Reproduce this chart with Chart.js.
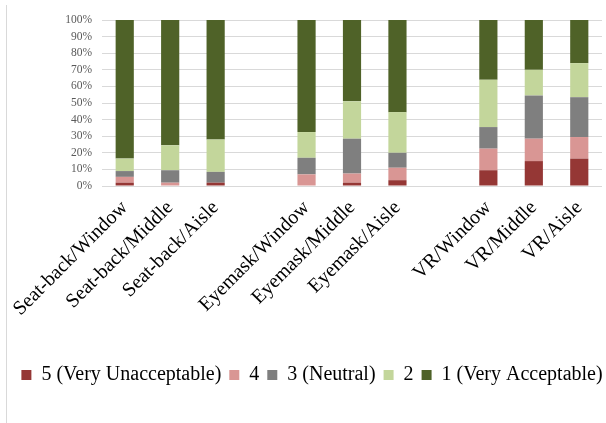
<!DOCTYPE html>
<html>
<head>
<meta charset="utf-8">
<script src="https://cdn.jsdelivr.net/npm/chart.js@4"></script>
<style>
  html, body { margin: 0; padding: 0; background: #fff; }
  #wrap { position: relative; width: 606px; height: 423px; }
  #frame { position: absolute; left: 6px; top: 5px; bottom: 0; border-left: 1px solid #d9d9d9; }
  canvas { position: absolute; left: 0; top: 0; }
</style>
</head>
<body>
<div id="wrap">
  <div id="frame"></div>
  <canvas id="chart" width="606" height="423"></canvas>
</div>
<script>
// Seating condition per column; empty strings are spacer slots between groups
const categories = [
  'Seat-back/Window', 'Seat-back/Middle', 'Seat-back/Aisle', '',
  'Eyemask/Window', 'Eyemask/Middle', 'Eyemask/Aisle', '',
  'VR/Window', 'VR/Middle', 'VR/Aisle'
];

// Share of responses (%) for each rating
const rating5 = [2, 0, 2, null, 0, 2, 3.5, null, 9.5, 15, 16.5];
const rating4 = [3.5, 2, 0, null, 7, 5.5, 7.5, null, 13, 13.5, 13];
const rating3 = [3.5, 7.5, 6.5, null, 10, 21, 9, null, 13, 26, 24];
const rating2 = [7.5, 15, 19.5, null, 15.5, 22.5, 24.5, null, 28.5, 15.5, 20.5];
const rating1 = [83.5, 75.5, 72, null, 67.5, 49, 55.5, null, 36, 30, 26];

const seriesNames = ['5 (Very Unacceptable)', '4', '3 (Neutral)', '2', '1 (Very Acceptable)'];
const seriesColors = ['#953735', '#D99694', '#7F7F7F', '#C3D69B', '#4F6228'];
const seriesValues = [rating5, rating4, rating3, rating2, rating1];

const yTicks = [0, 10, 20, 30, 40, 50, 60, 70, 80, 90, 100];

const serif = '"Liberation Serif", "Times New Roman", serif';
Chart.defaults.font.family = serif;

// Nudges the legend row sideways after layout
const legendShift = {
  id: 'legendShift',
  afterLayout(chart, args, opts) {
    const lg = chart.legend;
    if (lg) { lg.left += opts.dx; lg.right += opts.dx; }
  }
};

new Chart(document.getElementById('chart'), {
  type: 'bar',
  data: {
    labels: categories,
    datasets: seriesNames.map((name, i) => ({
      label: name,
      data: seriesValues[i],
      backgroundColor: seriesColors[i],
      borderWidth: 0,
      categoryPercentage: 1,
      barPercentage: 0.4
    }))
  },
  plugins: [legendShift],
  options: {
    responsive: false,
    animation: false,
    layout: { padding: { left: 0, right: 4, top: 20, bottom: 28 } },
    plugins: {
      tooltip: { enabled: false },
      legendShift: { dx: 11 },
      legend: {
        position: 'bottom',
        labels: {
          boxWidth: 10,
          boxHeight: 10,
          padding: 8,
          color: '#000',
          font: { family: serif, size: 20 }
        }
      }
    },
    scales: {
      x: {
        stacked: true,
        grid: { display: false },
        border: { display: false },
        ticks: {
          autoSkip: false,
          minRotation: 45,
          maxRotation: 45,
          color: '#000',
          padding: 2,
          font: { family: serif, size: 20 }
        },
        afterFit(scale) { scale.height = 171; }
      },
      y: {
        stacked: true,
        min: 0,
        max: 100,
        afterBuildTicks(scale) { scale.ticks = yTicks.map(v => ({ value: v })); },
        ticks: {
          autoSkip: false,
          callback: v => v + '%',
          color: '#595959',
          padding: 10,
          font: { family: serif, size: 11.5 }
        },
        grid: { color: '#d9d9d9', drawTicks: false },
        border: { display: false },
        afterFit(scale) { scale.width = 102; }
      }
    }
  }
});
</script>
</body>
</html>
